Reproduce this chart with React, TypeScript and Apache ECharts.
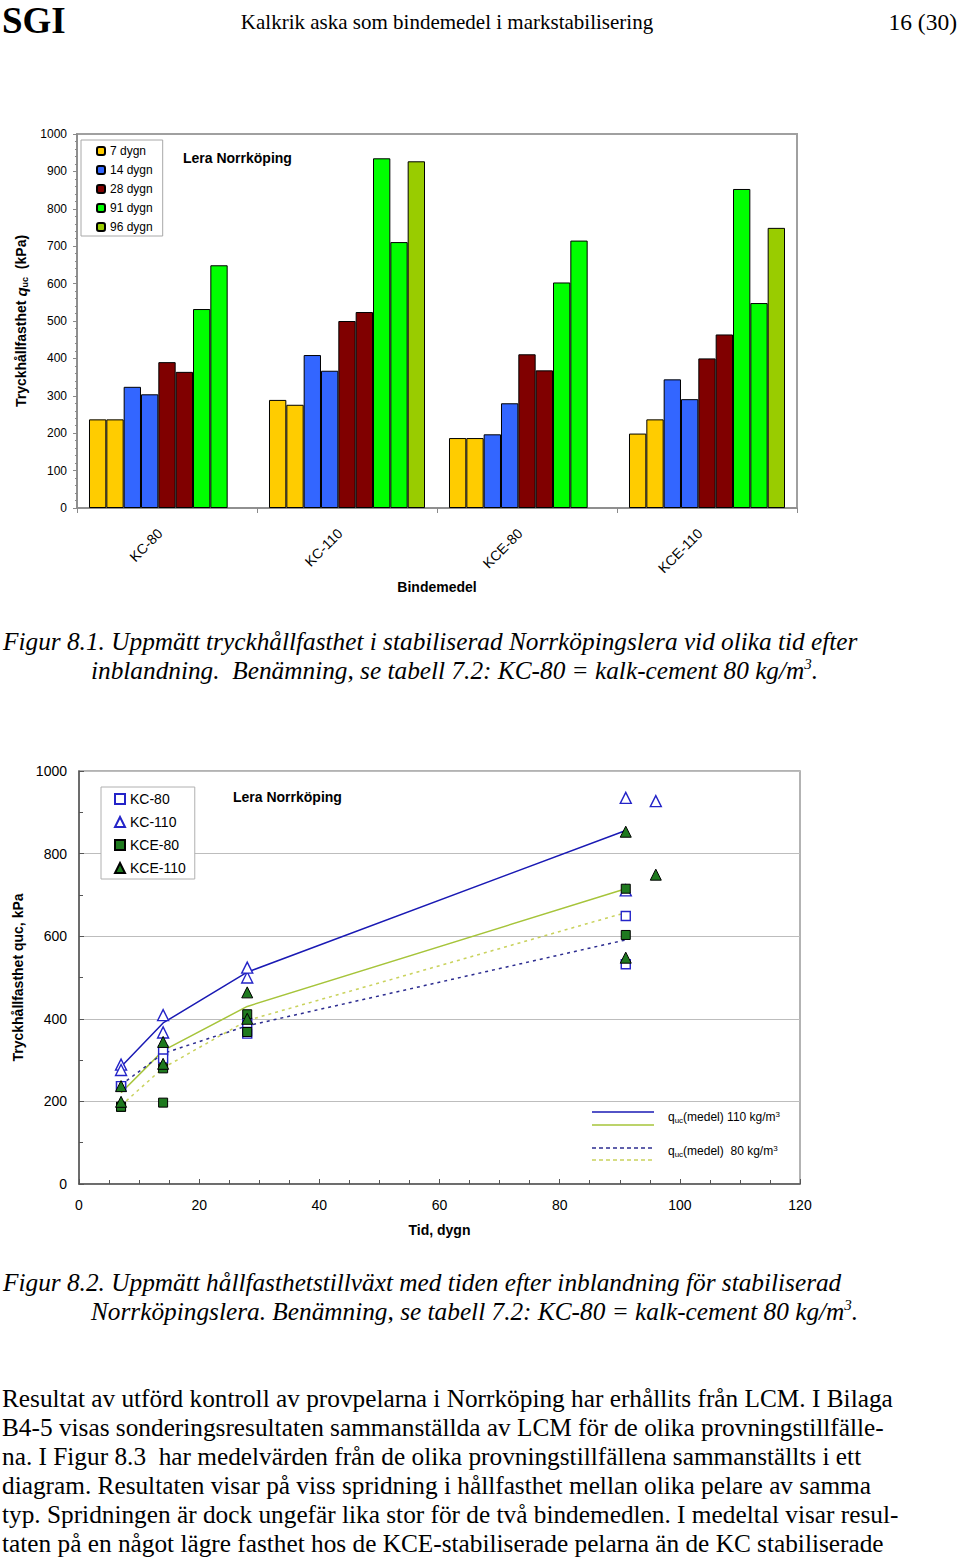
import React, { useEffect, useRef } from 'react';
import * as echarts from 'echarts';

// ---- data ----
const AGES = [7, 14, 28, 91, 96];
const AGE_NAMES = ['7 dygn', '14 dygn', '28 dygn', '91 dygn', '96 dygn'];
const BINDERS = ['KC-80', 'KC-110', 'KCE-80', 'KCE-110'];
// measured strengths (kPa) per age: two samples per age, one at 96 dygn
const KC80 = [[237, 237], [324, 304], [390, 364], [532, 649], []];
const KC110 = [[289, 276], [409, 367], [500, 524], [935, 711], [927]];
const KCE80 = [[187, 187], [197, 280], [411, 368], [603, 715], []];
const KCE110 = [[199, 237], [344, 291], [400, 464], [853, 548], [749]];
// mean lines
const MEAN_DAYS = [7, 14, 28, 91];
const MEAN_KC110 = [284, 390, 513, 856];
const MEAN_KCE110 = [221, 323, 430, 715];
const MEAN_KC80 = [240, 316, 383, 591];
const MEAN_KCE80 = [190, 281, 396, 657];
const Y_TICKS_1 = [0, 1000, 100];
const Y_TICKS_2 = [0, 1000, 200];
const X_TICKS_2 = [0, 120, 20];

const BINDER_VALUES = [KC80, KC110, KCE80, KCE110];
const BAR_SLOTS = [[0, 0], [0, 1], [1, 0], [1, 1], [2, 0], [2, 1], [3, 0], [3, 1], [4, 0]];
const AGE_COLORS = ['#FFCC00', '#3366FF', '#800000', '#00FF00', '#99CC00'];

const SANS = '"Liberation Sans", Arial, sans-serif';
const SERIF = '"Liberation Serif", "Times New Roman", serif';
const TXT = 25.3;

const BODY_LINES = [
  'Resultat av utförd kontroll av provpelarna i Norrköping har erhållits från LCM. I Bilaga',
  'B4-5 visas sonderingsresultaten sammanställda av LCM för de olika provningstillfälle-',
  'na. I Figur 8.3  har medelvärden från de olika provningstillfällena sammanställts i ett',
  'diagram. Resultaten visar på viss spridning i hållfasthet mellan olika pelare av samma',
  'typ. Spridningen är dock ungefär lika stor för de två bindemedlen. I medeltal visar resul-',
  'taten på en något lägre fasthet hos de KCE-stabiliserade pelarna än de KC stabiliserade',
];

const SCATTER_STYLE = [
  { symbol: 'rect', size: 9, color: '#ffffff', border: '#2424c8', bw: 1.4 },
  { symbol: 'triangle', size: 11, color: '#ffffff', border: '#2424c8', bw: 1.4 },
  { symbol: 'rect', size: 9, color: '#1f7a1f', border: '#000000', bw: 1 },
  { symbol: 'triangle', size: 11, color: '#1f7a1f', border: '#000000', bw: 1 },
];

function txt(x: number, y: number, text: string, o: any = {}) {
  return {
    type: 'text',
    x,
    y,
    z: 100,
    style: {
      text,
      fill: '#000',
      fontFamily: o.fontFamily || SERIF,
      fontSize: o.fontSize || TXT,
      fontWeight: o.fontWeight || 'normal',
      fontStyle: o.fontStyle || 'normal',
      align: o.align || 'left',
      textAlign: o.align || 'left',
      verticalAlign: 'middle',
      textVerticalAlign: 'middle',
      rich: o.rich,
    },
  };
}

function hline(x1: number, x2: number, y: number, stroke: string, dash?: number[]) {
  return {
    type: 'line',
    z: 100,
    shape: { x1, y1: y, x2, y2: y },
    style: { stroke, lineWidth: 1.5, lineDash: dash },
  };
}

const captionRich = {
  t: { fontFamily: SERIF, fontSize: TXT, fontStyle: 'italic', lineHeight: 28 },
  p: { fontFamily: SERIF, fontSize: 15, fontStyle: 'italic', lineHeight: 15, verticalAlign: 'top' },
};
const medelRich = {
  q: { fontFamily: SANS, fontSize: 12, lineHeight: 14 },
  s: { fontFamily: SANS, fontSize: 8, lineHeight: 8, verticalAlign: 'bottom' },
  t: { fontFamily: SANS, fontSize: 12, lineHeight: 14 },
  p: { fontFamily: SANS, fontSize: 8, lineHeight: 8, verticalAlign: 'top' },
};

export default function App() {
  const ref = useRef<HTMLDivElement>(null);
  useEffect(() => {
    if (!ref.current) return;
    const chart = echarts.init(ref.current, undefined, { renderer: 'svg' });

    const barSeries = BAR_SLOTS.map(([a, k]) => ({
      type: 'bar',
      name: AGE_NAMES[a],
      xAxisIndex: 0,
      yAxisIndex: 0,
      data: BINDER_VALUES.map((b) => (b[a][k] !== undefined ? b[a][k] : null)),
      barGap: '0%',
      barCategoryGap: '13.33%',
      itemStyle: { color: AGE_COLORS[a], borderColor: '#000', borderWidth: 1 },
    }));

    const scatterSeries = BINDERS.map((name, bi) => ({
      type: 'scatter',
      name,
      xAxisIndex: 1,
      yAxisIndex: 1,
      z: 5,
      symbol: SCATTER_STYLE[bi].symbol,
      symbolSize: SCATTER_STYLE[bi].size,
      itemStyle: {
        color: SCATTER_STYLE[bi].color,
        borderColor: SCATTER_STYLE[bi].border,
        borderWidth: SCATTER_STYLE[bi].bw,
        opacity: 1,
      },
      data: BINDER_VALUES[bi].flatMap((vals, ai) => vals.map((v) => [AGES[ai], v])),
    }));

    const meanDefs = [
      { name: 'medel KC-110', vals: MEAN_KC110, color: '#1a1ab4', type: 'solid' },
      { name: 'medel KCE-110', vals: MEAN_KCE110, color: '#a6c43a', type: 'solid' },
      { name: 'medel KC-80', vals: MEAN_KC80, color: '#2c2c90', type: [3, 4] },
      { name: 'medel KCE-80', vals: MEAN_KCE80, color: '#c9d25c', type: [3, 4] },
    ];
    const lineSeries = meanDefs.map((m) => ({
      type: 'line',
      name: m.name,
      xAxisIndex: 1,
      yAxisIndex: 1,
      z: 2,
      symbol: 'none',
      lineStyle: { color: m.color, width: 1.5, type: m.type },
      data: MEAN_DAYS.map((d, i) => [d, m.vals[i]]),
    }));

    const graphic: any[] = [
      txt(2, 20, 'SGI', { fontSize: 37, fontWeight: 'bold' }),
      txt(447, 22, 'Kalkrik aska som bindemedel i markstabilisering', { fontSize: 21, align: 'center' }),
      txt(957, 22, '16 (30)', { fontSize: 23.5, align: 'right' }),
      txt(183, 158, 'Lera Norrköping', { fontFamily: SANS, fontSize: 14, fontWeight: 'bold' }),
      txt(233, 797, 'Lera Norrköping', { fontFamily: SANS, fontSize: 14, fontWeight: 'bold' }),
      txt(3, 641, 'Figur 8.1. Uppmätt tryckhållfasthet i stabiliserad Norrköpingslera vid olika tid efter', { fontStyle: 'italic' }),
      txt(91, 670, '{t|inblandning.  Benämning, se tabell 7.2: KC-80 = kalk-cement 80 kg/m}{p|3}{t|.}', {
        fontStyle: 'italic',
        rich: captionRich,
      }),
      txt(3, 1282, 'Figur 8.2. Uppmätt hållfasthetstillväxt med tiden efter inblandning för stabiliserad', { fontStyle: 'italic' }),
      txt(91, 1311, '{t|Norrköpingslera. Benämning, se tabell 7.2: KC-80 = kalk-cement 80 kg/m}{p|3}{t|.}', {
        fontStyle: 'italic',
        rich: captionRich,
      }),
      ...BODY_LINES.map((l, i) => txt(2, 1398 + i * 29, l)),
      hline(592, 654, 1112, '#1a1ab4'),
      hline(592, 654, 1125, '#a6c43a'),
      hline(592, 654, 1148, '#2c2c90', [4, 3]),
      hline(592, 654, 1160, '#c9d25c', [4, 3]),
      txt(668, 1117, '{q|q}{s|uc}{t|(medel) 110 kg/m}{p|3}', { fontFamily: SANS, fontSize: 12, rich: medelRich }),
      txt(668, 1151, '{q|q}{s|uc}{t|(medel)  80 kg/m}{p|3}', { fontFamily: SANS, fontSize: 12, rich: medelRich }),
    ];

    const plain = (v: number) => String(v);

    chart.setOption({
      animation: false,
      backgroundColor: '#ffffff',
      textStyle: { fontFamily: SANS, color: '#000' },
      grid: [
        { left: 77, top: 134, width: 720, height: 374, show: true, borderColor: '#a0a0a0', borderWidth: 2, backgroundColor: 'transparent' },
        { left: 79, top: 771, width: 721, height: 413, show: true, borderColor: '#9a9a9a', borderWidth: 1.5, backgroundColor: 'transparent' },
      ],
      legend: [
        {
          data: AGE_NAMES,
          orient: 'vertical',
          left: 81,
          top: 140,
          padding: [5, 10, 3, 15],
          itemGap: 7,
          itemWidth: 8,
          itemHeight: 8,
          borderColor: '#a8a8a8',
          borderWidth: 1,
          backgroundColor: '#fff',
          selectedMode: false,
          textStyle: { fontSize: 12, fontFamily: SANS, color: '#000' },
        },
        {
          data: BINDERS,
          orient: 'vertical',
          left: 101,
          top: 787,
          padding: [5, 9, 4, 13],
          itemGap: 9,
          itemWidth: 10,
          itemHeight: 10,
          borderColor: '#b0b0b0',
          borderWidth: 1,
          backgroundColor: '#fff',
          selectedMode: false,
          textStyle: { fontSize: 14, fontFamily: SANS, color: '#000' },
        },
      ],
      xAxis: [
        {
          type: 'category',
          gridIndex: 0,
          data: BINDERS,
          axisLine: { lineStyle: { color: '#8a8a8a', width: 1.5 } },
          axisTick: { show: true, length: 5, lineStyle: { color: '#8a8a8a' } },
          axisLabel: { rotate: 45, fontSize: 14, margin: 16, padding: [0, 10, 0, 0], color: '#000', fontFamily: SANS },
          name: 'Bindemedel',
          nameLocation: 'middle',
          nameGap: 72,
          nameTextStyle: { fontSize: 14, fontWeight: 'bold', color: '#000', fontFamily: SANS },
        },
        {
          type: 'value',
          gridIndex: 1,
          min: X_TICKS_2[0],
          max: X_TICKS_2[1],
          interval: X_TICKS_2[2],
          axisLine: { show: true, lineStyle: { color: '#555', width: 1.5 } },
          axisTick: { show: true, inside: true, length: 5, lineStyle: { color: '#555' } },
          minorTick: { show: true, splitNumber: 4, length: 4, lineStyle: { color: '#555' } },
          splitLine: { show: false },
          axisLabel: { fontSize: 14, margin: 14, color: '#000', fontFamily: SANS, formatter: plain },
          name: 'Tid, dygn',
          nameLocation: 'middle',
          nameGap: 39,
          nameTextStyle: { fontSize: 14, fontWeight: 'bold', color: '#000', fontFamily: SANS },
        },
      ],
      yAxis: [
        {
          type: 'value',
          gridIndex: 0,
          min: Y_TICKS_1[0],
          max: Y_TICKS_1[1],
          interval: Y_TICKS_1[2],
          axisLine: { show: true, lineStyle: { color: '#8a8a8a', width: 1.5 } },
          axisTick: { show: true, length: 4, lineStyle: { color: '#8a8a8a' } },
          minorTick: { show: true, splitNumber: 5, length: 2, lineStyle: { color: '#8a8a8a' } },
          splitLine: { show: false },
          axisLabel: { fontSize: 12, margin: 10, color: '#000', fontFamily: SANS, formatter: plain },
          name: '{b|Tryckhållfasthet }{q|q}{s|uc}{b|  (kPa)}',
          nameLocation: 'middle',
          nameGap: 40,
          nameRotate: 90,
          nameTextStyle: {
            fontSize: 14,
            fontWeight: 'bold',
            color: '#000',
            rich: {
              b: { fontSize: 14, fontWeight: 'bold', fontFamily: SANS, lineHeight: 16 },
              q: { fontSize: 15, fontWeight: 'bold', fontStyle: 'italic', fontFamily: SANS, lineHeight: 16 },
              s: { fontSize: 9, fontWeight: 'bold', fontFamily: SANS, lineHeight: 9, verticalAlign: 'bottom' },
            },
          },
        },
        {
          type: 'value',
          gridIndex: 1,
          min: Y_TICKS_2[0],
          max: Y_TICKS_2[1],
          interval: Y_TICKS_2[2],
          axisLine: { show: true, lineStyle: { color: '#555', width: 1.5 } },
          axisTick: { show: true, inside: true, length: 5, lineStyle: { color: '#555' } },
          minorTick: { show: true, splitNumber: 2, length: 4, lineStyle: { color: '#555' } },
          splitLine: { show: true, lineStyle: { color: '#bdbdbd', width: 1.2 } },
          axisLabel: { fontSize: 14, margin: 12, color: '#000', fontFamily: SANS, formatter: plain },
          name: 'Tryckhållfasthet quc, kPa',
          nameLocation: 'middle',
          nameGap: 49,
          nameRotate: 90,
          nameTextStyle: { fontSize: 14, fontWeight: 'bold', color: '#000', fontFamily: SANS },
        },
      ],
      series: [...barSeries, ...lineSeries, ...scatterSeries],
      graphic,
    });

    return () => chart.dispose();
  }, []);

  return (
    <div
      ref={ref}
      style={{ position: 'absolute', left: 0, top: 0, width: 960, height: 1559, background: '#fff' }}
    />
  );
}
